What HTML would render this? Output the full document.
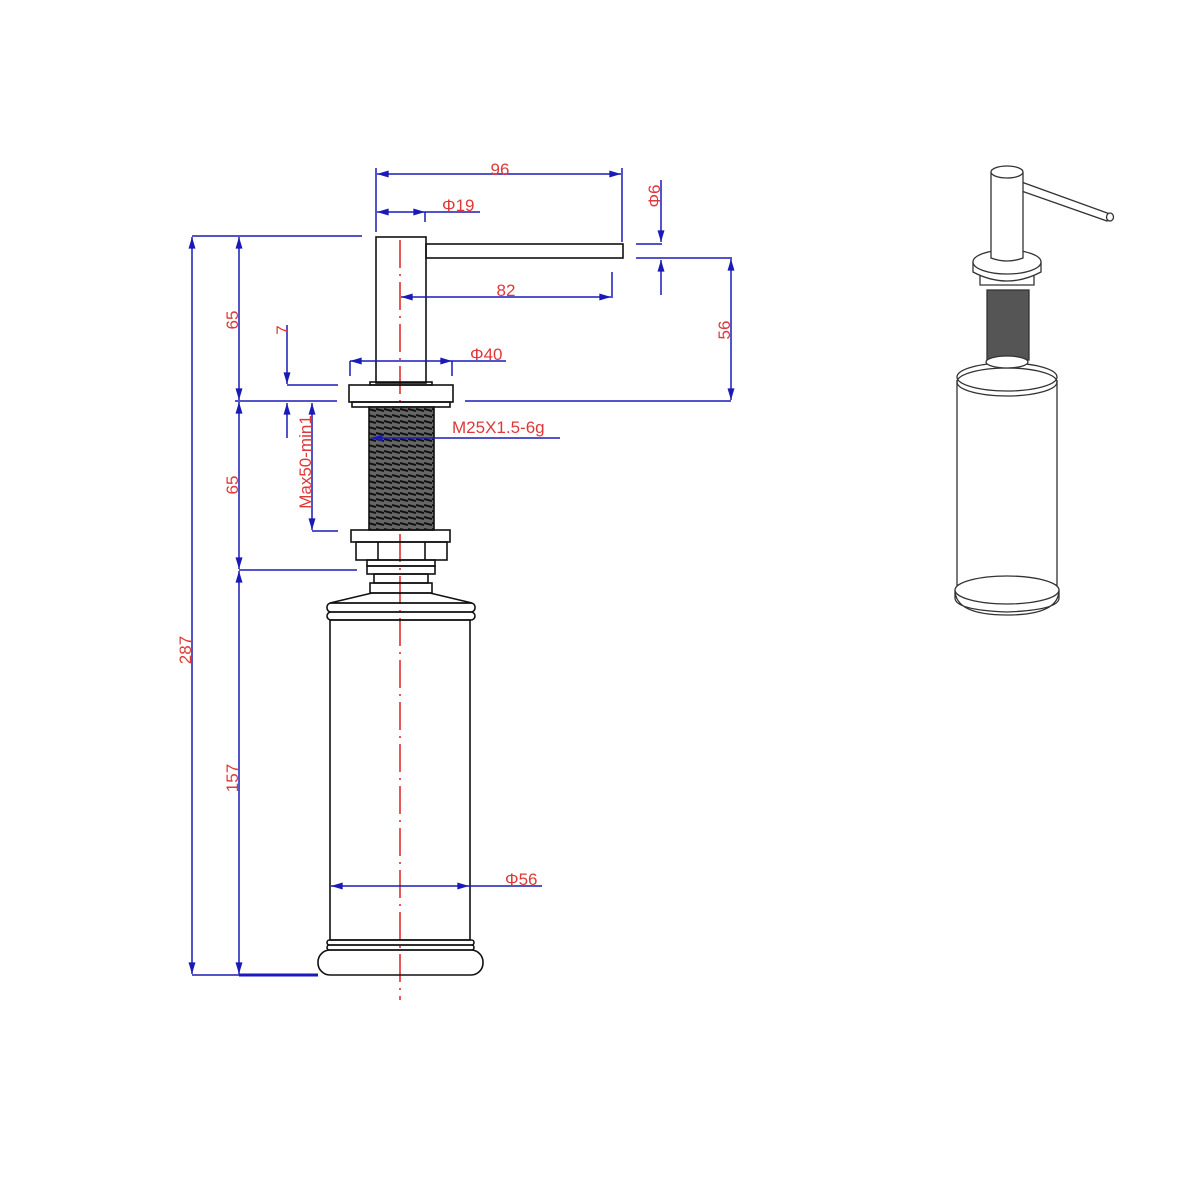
<!DOCTYPE html>
<html><head><meta charset="utf-8"><style>html,body{margin:0;padding:0;background:#fff}svg{display:block}</style></head>
<body>
<svg width="1200" height="1200" viewBox="0 0 1200 1200" xmlns="http://www.w3.org/2000/svg">
<defs>
<marker id="a" viewBox="0 0 10 6" refX="10" refY="3" markerWidth="16" markerHeight="7" markerUnits="userSpaceOnUse" orient="auto-start-reverse"><path d="M0,0 L10,3 L0,6 Z" fill="#1a1ab8"/></marker>
<pattern id="th" width="8" height="6" patternUnits="userSpaceOnUse"><rect width="8" height="6" fill="#666"/><path d="M0,1 L8,3" stroke="#111" stroke-width="2"/></pattern>
</defs>
<rect width="1200" height="1200" fill="#fff"/>
<line x1="400" y1="240" x2="400" y2="1000" stroke="#d22" stroke-width="1.5" stroke-dasharray="28,6,2,6"/>
<g fill="none" stroke="#111" stroke-width="1.6">
<rect x="376" y="237" width="50" height="146"/>
<rect x="426" y="244" width="197" height="14"/>
<rect x="370" y="382" width="62" height="3"/>
<rect x="349" y="385" width="104" height="17"/>
<rect x="352" y="402" width="98" height="5"/>
<rect x="369" y="407" width="65" height="123" fill="url(#th)"/>
<rect x="351" y="530" width="99" height="12"/>
<rect x="356" y="542" width="91" height="18"/>
<line x1="378" y1="542" x2="378" y2="560"/><line x1="425" y1="542" x2="425" y2="560"/>
<rect x="367" y="560" width="68" height="6"/>
<rect x="367" y="566" width="68" height="8"/>
<rect x="374" y="574" width="54" height="9"/>
<rect x="370" y="583" width="62" height="10"/>
<path d="M372,593 L430,593 L472,603 L330,603 Z"/>
<rect x="327" y="603" width="148" height="9" rx="4"/>
<rect x="327" y="612" width="148" height="8" rx="4"/>
<rect x="330" y="620" width="140" height="320"/>
<rect x="327" y="940" width="147" height="5" rx="2.5"/>
<rect x="327" y="945" width="147" height="5" rx="2.5"/>
<rect x="318" y="950" width="165" height="25" rx="12"/>
</g>
<g fill="none" stroke="#1a1ab8" stroke-width="1.5">
<line x1="376" y1="168" x2="376" y2="232"/><line x1="622" y1="168" x2="622" y2="242"/>
<line x1="377" y1="174" x2="621" y2="174" marker-start="url(#a)" marker-end="url(#a)"/>
<line x1="377" y1="212" x2="425" y2="212" marker-start="url(#a)" marker-end="url(#a)"/>
<line x1="425" y1="212" x2="480" y2="212"/><line x1="425" y1="212" x2="425" y2="222"/>
<line x1="661" y1="180" x2="661" y2="242" marker-end="url(#a)"/>
<line x1="636" y1="244" x2="662" y2="244"/>
<line x1="636" y1="258" x2="732" y2="258"/>
<line x1="661" y1="295" x2="661" y2="260" marker-end="url(#a)"/>
<line x1="612" y1="272" x2="612" y2="298"/>
<line x1="401" y1="297" x2="611" y2="297" marker-start="url(#a)" marker-end="url(#a)"/>
<line x1="731" y1="259" x2="731" y2="400" marker-start="url(#a)" marker-end="url(#a)"/>
<line x1="465" y1="401" x2="731" y2="401"/>
<line x1="350" y1="361" x2="452" y2="361" marker-start="url(#a)" marker-end="url(#a)"/>
<line x1="452" y1="361" x2="506" y2="361"/><line x1="350" y1="361" x2="350" y2="376"/><line x1="452" y1="361" x2="452" y2="376"/>
<line x1="371" y1="438" x2="560" y2="438" marker-start="url(#a)"/>
<line x1="192" y1="236" x2="362" y2="236"/>
<line x1="192" y1="237" x2="192" y2="974" marker-start="url(#a)" marker-end="url(#a)"/>
<line x1="239" y1="237" x2="239" y2="400" marker-start="url(#a)" marker-end="url(#a)"/>
<line x1="239" y1="402" x2="239" y2="569" marker-start="url(#a)" marker-end="url(#a)"/>
<line x1="239" y1="571" x2="239" y2="974" marker-start="url(#a)" marker-end="url(#a)"/>
<line x1="235" y1="401" x2="337" y2="401"/>
<line x1="239" y1="570" x2="357" y2="570"/>
<line x1="192" y1="975" x2="318" y2="975"/><line x1="239" y1="975" x2="318" y2="975" stroke-width="3"/>
<line x1="287" y1="325" x2="287" y2="384" marker-end="url(#a)"/>
<line x1="287" y1="385" x2="338" y2="385"/>
<line x1="287" y1="438" x2="287" y2="403" marker-end="url(#a)"/>
<line x1="312" y1="403" x2="312" y2="530" marker-start="url(#a)" marker-end="url(#a)"/>
<line x1="312" y1="531" x2="338" y2="531"/>
<line x1="331" y1="886" x2="469" y2="886" marker-start="url(#a)" marker-end="url(#a)"/>
<line x1="469" y1="886" x2="542" y2="886"/>
</g>
<g fill="#e03838" font-family="Liberation Sans, sans-serif" font-size="17">
<text x="500" y="175" text-anchor="middle">96</text>
<text x="442" y="211">Φ19</text>
<text x="506" y="296" text-anchor="middle">82</text>
<text x="470" y="360">Φ40</text>
<text x="452" y="433">M25X1.5-6g</text>
<text x="505" y="885">Φ56</text>
<text transform="translate(660,196) rotate(-90)" text-anchor="middle">Φ6</text>
<text transform="translate(730,330) rotate(-90)" text-anchor="middle">56</text>
<text transform="translate(238,320) rotate(-90)" text-anchor="middle">65</text>
<text transform="translate(238,485) rotate(-90)" text-anchor="middle">65</text>
<text transform="translate(238,778) rotate(-90)" text-anchor="middle">157</text>
<text transform="translate(191,650) rotate(-90)" text-anchor="middle">287</text>
<text transform="translate(288,330) rotate(-90)" text-anchor="middle">7</text>
<text transform="translate(311,462) rotate(-90)" text-anchor="middle">Max50-min1</text>
</g>
<g fill="#fff" stroke="#333" stroke-width="1.3">
<path d="M1016,180 L1110,214 L1107,221 L1013,188 Z"/>
<ellipse cx="1110" cy="217" rx="3.5" ry="4"/>
<path d="M957,380 L957,585 L1057,585 L1057,380"/>
<ellipse cx="1007" cy="377" rx="50" ry="14"/>
<ellipse cx="1007" cy="382" rx="50" ry="14" fill="none"/>
<path d="M955,590 Q955,615 1007,615 Q1059,615 1059,590 L1059,598 Q1059,610 1007,612 Q955,610 955,598 Z"/>
<ellipse cx="1007" cy="590" rx="52" ry="14"/>
<rect x="987" y="290" width="42" height="70" fill="#555"/>
<ellipse cx="1007" cy="362" rx="21" ry="6"/>
<path d="M980,275 L980,285 L1034,285 L1034,275"/>
<path d="M973,262 L973,272 Q1007,290 1041,272 L1041,262"/>
<ellipse cx="1007" cy="262" rx="34" ry="12"/>
<path d="M991,172 L991,258 Q1007,264 1023,258 L1023,172"/>
<ellipse cx="1007" cy="172" rx="16" ry="6"/>
</g>
</svg>
</body></html>
